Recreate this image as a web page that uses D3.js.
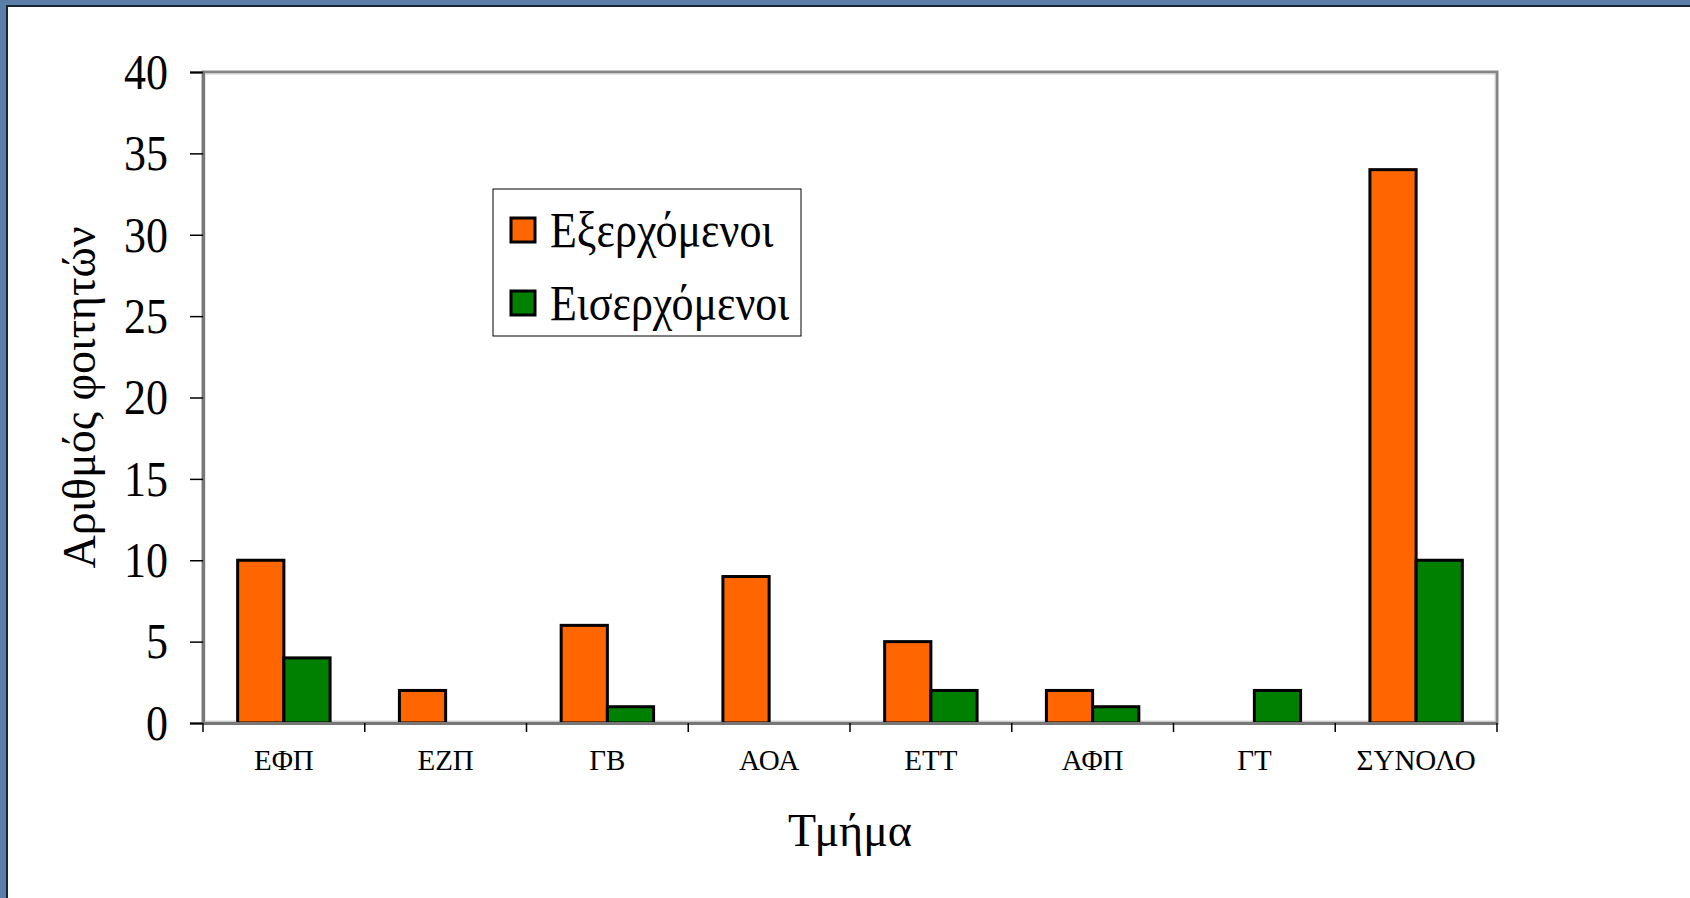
<!DOCTYPE html>
<meta charset="utf-8">
<style>
  body { margin: 0; background: #5a7ea8; }
  text { font-family: "Liberation Serif", "Times New Roman", serif; fill: #000; }
  .tall { transform-box: fill-box; transform-origin: center; transform: scaleY(1.15); }
</style>
<script src="https://d3js.org/d3.v7.min.js"></script>
<div id="chart"></div>
<script>
// data
var departments = ["ΕΦΠ", "ΕΖΠ", "ΓΒ", "ΑΟΑ", "ΕΤΤ", "ΑΦΠ", "ΓΤ", "ΣΥΝΟΛΟ"];
var seriesNames = ["Εξερχόμενοι", "Εισερχόμενοι"];
var outgoing = [10, 2, 6, 9, 5, 2, 0, 34];
var incoming = [4, 0, 1, 0, 2, 1, 2, 10];
var yTicks = [0, 5, 10, 15, 20, 25, 30, 35, 40];
var colors = ["#ff6600", "#008000"];

var W = 1690, H = 898;
var plot = {left: 203, right: 1497, top: 72, bottom: 723};

var svg = d3.select("#chart").append("svg")
  .attr("width", W).attr("height", H)
  .style("display", "block");

// slide background: blue texture with white panel
svg.append("rect").attr("width", W).attr("height", H).attr("fill", "#5a7ea8");
svg.append("rect")
  .attr("x", 7).attr("y", 6).attr("width", W).attr("height", H)
  .attr("fill", "#fff").attr("stroke", "#1a2433").attr("stroke-width", 2);

var x = d3.scaleBand().domain(departments).range([plot.left, plot.right]);
var x1 = d3.scaleBand().domain(seriesNames).range([0, x.bandwidth()]).paddingOuter(0.75);
var y = d3.scaleLinear().domain([0, 40]).range([plot.bottom, plot.top]);

// plot frame
svg.append("rect")
  .attr("x", plot.left).attr("y", plot.top)
  .attr("width", plot.right - plot.left).attr("height", plot.bottom - plot.top)
  .attr("fill", "none").attr("stroke", "#868686").attr("stroke-width", 3);
svg.append("rect")
  .attr("x", plot.left + 2).attr("y", plot.top + 2)
  .attr("width", plot.right - plot.left - 4).attr("height", plot.bottom - plot.top - 4)
  .attr("fill", "none").attr("stroke", "#d0d0d0").attr("stroke-width", 1);

// bars
var rows = departments.map(function(d, i) {
  return {dep: d, values: [outgoing[i], incoming[i]]};
});
var groups = svg.selectAll("g.grp").data(rows).enter().append("g")
  .attr("class", "grp")
  .attr("transform", function(d) { return "translate(" + x(d.dep) + ",0)"; });
groups.selectAll("rect")
  .data(function(d) { return d.values.map(function(v, k) { return {v: v, k: k}; }); })
  .enter().filter(function(d) { return d.v > 0; })
  .append("rect")
    .attr("x", function(d) { return x1(seriesNames[d.k]); })
    .attr("y", function(d) { return y(d.v); })
    .attr("width", x1.bandwidth())
    .attr("height", function(d) { return y(0) - y(d.v); })
    .attr("fill", function(d) { return colors[d.k]; })
    .attr("stroke", "#000").attr("stroke-width", 3);

// y axis
var yAxis = svg.append("g")
  .attr("transform", "translate(" + plot.left + ",0)")
  .call(d3.axisLeft(y).tickValues(yTicks).tickSize(13).tickPadding(22));
yAxis.select(".domain").attr("stroke", "#777").attr("stroke-width", 3);
yAxis.selectAll(".tick line").attr("stroke", "#000").attr("stroke-width", 1.5);
yAxis.selectAll("text").attr("class", "tall").style("font-size", "44px").attr("fill", "#000");

// x axis: labels centred, ticks between categories
var xAxis = svg.append("g")
  .attr("transform", "translate(0," + plot.bottom + ")")
  .call(d3.axisBottom(x).tickSize(0).tickPadding(26));
xAxis.select(".domain").attr("stroke", "#777").attr("stroke-width", 3);
xAxis.selectAll("text").style("font-size", "29px").attr("fill", "#000");
var bounds = departments.map(function(d) { return x(d); }).concat([plot.right]);
svg.append("g").selectAll("line").data(bounds).enter().append("line")
  .attr("x1", function(d) { return d; }).attr("x2", function(d) { return d; })
  .attr("y1", plot.bottom).attr("y2", plot.bottom + 9)
  .attr("stroke", "#000").attr("stroke-width", 1.5);

// axis titles
svg.append("text")
  .attr("x", (plot.left + plot.right) / 2).attr("y", 846)
  .attr("text-anchor", "middle").style("font-size", "46px")
  .text("Τμήμα");
svg.append("text")
  .attr("transform", "translate(95," + (plot.top + plot.bottom) / 2 + ") rotate(-90)")
  .attr("text-anchor", "middle").style("font-size", "46px")
  .text("Αριθμός φοιτητών");

// legend
var legend = svg.append("g");
legend.append("rect")
  .attr("x", 493).attr("y", 189).attr("width", 308).attr("height", 147)
  .attr("fill", "#fff").attr("stroke", "#000").attr("stroke-width", 1);
seriesNames.forEach(function(name, i) {
  legend.append("rect")
    .attr("x", 511).attr("y", 218 + i * 73).attr("width", 24).attr("height", 24)
    .attr("fill", colors[i]).attr("stroke", "#000").attr("stroke-width", 3);
  legend.append("text")
    .attr("class", "tall")
    .attr("x", 550).attr("y", 245 + i * 73)
    .style("font-size", "44px")
    .text(name);
});
</script>
